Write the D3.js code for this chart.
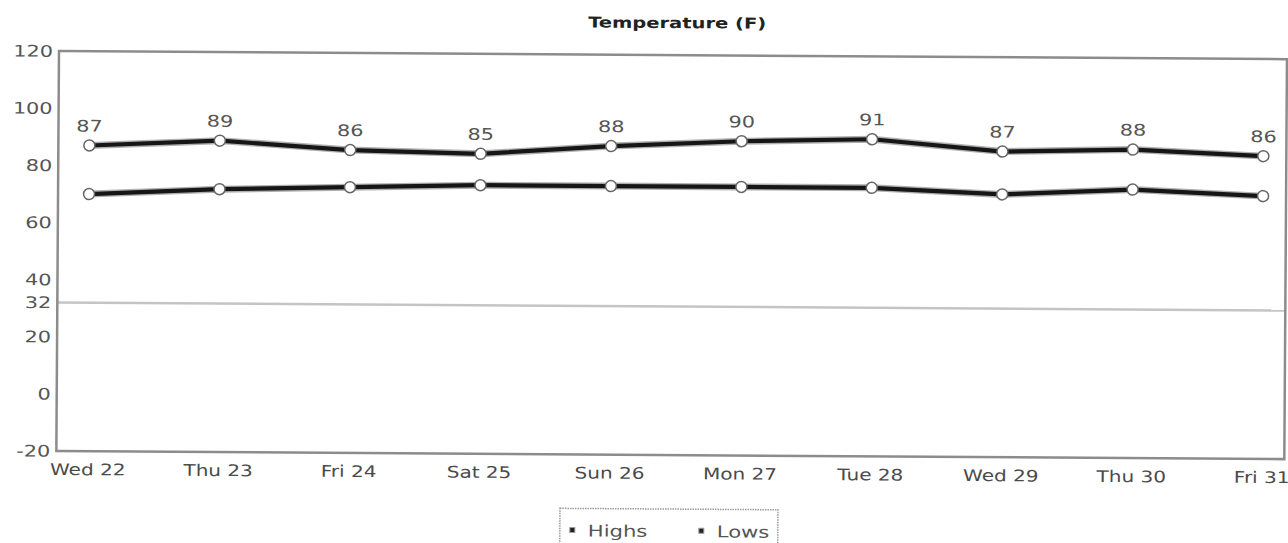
<!DOCTYPE html>
<html>
<head>
<meta charset="utf-8">
<script src="https://cdn.jsdelivr.net/npm/d3@7/dist/d3.min.js"></script>
<style>
  html, body { margin: 0; padding: 0; background: #fff; }
  svg { display: block; }
  text { font-family: "DejaVu Sans", Verdana, sans-serif; }
</style>
</head>
<body>
<svg id="chart" width="1288" height="543"></svg>
<script>
const days = ["Wed 22", "Thu 23", "Fri 24", "Sat 25", "Sun 26", "Mon 27", "Tue 28", "Wed 29", "Thu 30", "Fri 31"];
const highs = [87, 89, 86, 85, 88, 90, 91, 87, 88, 86];
const lows = [70, 72, 73, 74, 74, 74, 74, 72, 74, 72];
const yTicks = [120, 100, 80, 60, 40, 32, 20, 0, -20];
const freezing = 32;
const seriesNames = ["Highs", "Lows"];
const title = "Temperature (F)";

const plot = { left: 59, right: 1287, top: 51, bottom: 451 };
const SX = 1.3; // horizontal stretch of glyphs

const svg = d3.select("#chart");
const g = svg.append("g").attr("transform", "rotate(0.38, 60, 50)");

const x = d3.scalePoint().domain(days).range([90, 1264]);
const y = d3.scaleLinear().domain([-20, 120]).range([plot.bottom, plot.top]);

function stretchedText(sel, px, py, str, opts = {}) {
  return sel.append("text")
    .attr("transform", `translate(${px},${py}) scale(${opts.sx || SX},1)`)
    .attr("text-anchor", opts.anchor || "middle")
    .attr("font-size", opts.size || 16)
    .attr("font-weight", opts.weight || "normal")
    .attr("fill", opts.fill || "#555")
    .text(str);
}

// title
stretchedText(g, 677, 24, title, { size: 15, weight: "bold", fill: "#222", sx: 1.3 });

// freezing line
g.append("line")
  .attr("x1", plot.left).attr("x2", plot.right)
  .attr("y1", y(freezing)).attr("y2", y(freezing))
  .attr("stroke", "#c4c4c4").attr("stroke-width", 2.5);

// frame
g.append("rect")
  .attr("x", plot.left).attr("y", plot.top)
  .attr("width", plot.right - plot.left).attr("height", plot.bottom - plot.top)
  .attr("fill", "none").attr("stroke", "#8c8c8c").attr("stroke-width", 2.5);

// y axis labels via axis
const yAxis = d3.axisLeft(y).tickValues(yTicks).tickSize(0).tickPadding(0).tickFormat(d => String(d));
const yAx = g.append("g").attr("transform", `translate(${plot.left - 6},0)`).call(yAxis);
yAx.select(".domain").remove();
yAx.selectAll(".tick").attr("transform", null);
yAx.selectAll(".tick text")
  .attr("font-family", "DejaVu Sans, Verdana, sans-serif")
  .attr("font-size", 16)
  .attr("fill", "#555")
  .attr("x", null).attr("y", null)
  .attr("dy", "0.36em")
  .attr("text-anchor", "end")
  .attr("transform", d => `translate(0,${y(d)}) scale(${SX},1)`);

// x axis labels via axis
const xAxis = d3.axisBottom(x).tickSize(0).tickPadding(0);
const xAx = g.append("g").attr("transform", `translate(0,${plot.bottom})`).call(xAxis);
xAx.select(".domain").remove();
xAx.selectAll(".tick text")
  .attr("font-family", "DejaVu Sans, Verdana, sans-serif")
  .attr("font-size", 16)
  .attr("fill", "#4a4a4a")
  .attr("y", null).attr("dy", null)
  .attr("transform", `translate(0,24) scale(1.25,1)`);

// lines
const line = d3.line().x((d, i) => x(days[i])).y(d => y(d));
[highs, lows].forEach(series => {
  g.append("path").datum(series)
    .attr("d", line)
    .attr("fill", "none")
    .attr("stroke", "#b0b0b0").attr("stroke-width", 7).attr("stroke-linejoin", "round");
  g.append("path").datum(series)
    .attr("d", line)
    .attr("fill", "none")
    .attr("stroke", "#161616").attr("stroke-width", 4.2).attr("stroke-linejoin", "round");
});

// markers
[highs, lows].forEach(series => {
  g.selectAll(null).data(series).enter().append("circle")
    .attr("cx", (d, i) => x(days[i])).attr("cy", d => y(d))
    .attr("r", 5.5)
    .attr("fill", "#fff").attr("stroke", "#666").attr("stroke-width", 1.5);
});

// data labels on highs
highs.forEach((d, i) => {
  stretchedText(g, x(days[i]), y(d) - 14, d, { size: 16, fill: "#555" });
});

// legend
const lg = g.append("g");
const lgX = 563, lgY = 505;
lg.append("rect").attr("x", lgX).attr("y", lgY).attr("width", 218).attr("height", 60)
  .attr("fill", "#fff").attr("stroke", "#9a9a9a").attr("stroke-width", 1.5).attr("stroke-dasharray", "1.5,1");
const legendOffsets = [0, 129];
seriesNames.forEach((name, i) => {
  const ox = lgX + 10 + legendOffsets[i];
  lg.append("rect").attr("x", ox).attr("y", lgY + 19).attr("width", 5).attr("height", 5)
    .attr("fill", "#222").attr("stroke", "#999").attr("stroke-width", 1);
  stretchedText(lg, ox + 18, lgY + 28, name, { anchor: "start", size: 16, fill: "#555", sx: 1.32 });
});
</script>
</body>
</html>
